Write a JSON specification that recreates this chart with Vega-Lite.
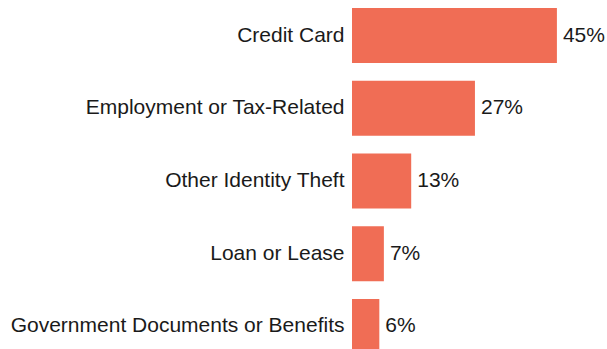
{
  "$schema": "https://vega.github.io/schema/vega-lite/v6.json",
  "autosize": {"type": "none"},
  "padding": {"left": 352, "top": 0, "right": 0, "bottom": 0},
  "width": 255,
  "height": 362,
  "background": "white",
  "data": {"values": [
    {"category": "Credit Card", "pct": 45, "label": "45%"},
    {"category": "Employment or Tax-Related", "pct": 27, "label": "27%"},
    {"category": "Other Identity Theft", "pct": 13, "label": "13%"},
    {"category": "Loan or Lease", "pct": 7, "label": "7%"},
    {"category": "Government Documents or Benefits", "pct": 6, "label": "6%"}
  ]},
  "config": {"view": {"stroke": null}, "font": "Liberation Sans"},
  "encoding": {
    "y": {"field": "category", "type": "nominal", "sort": null,
      "scale": {"paddingInner": 0.244, "paddingOuter": 0.11},
      "axis": {"title": null, "domain": false, "ticks": false, "labelPadding": 8, "labelFontSize": 21, "labelColor": "#1a1a1a", "labelFont": "Liberation Sans", "labelLimit": 400}},
    "x": {"field": "pct", "type": "quantitative", "scale": {"domain": [0, 56]}, "axis": null}
  },
  "layer": [
    {"mark": {"type": "bar", "color": "#F06D55"}},
    {"mark": {"type": "text", "align": "left", "dx": 6, "fontSize": 21, "color": "#1a1a1a", "font": "Liberation Sans"},
     "encoding": {"text": {"field": "label", "type": "nominal"}}}
  ]
}
